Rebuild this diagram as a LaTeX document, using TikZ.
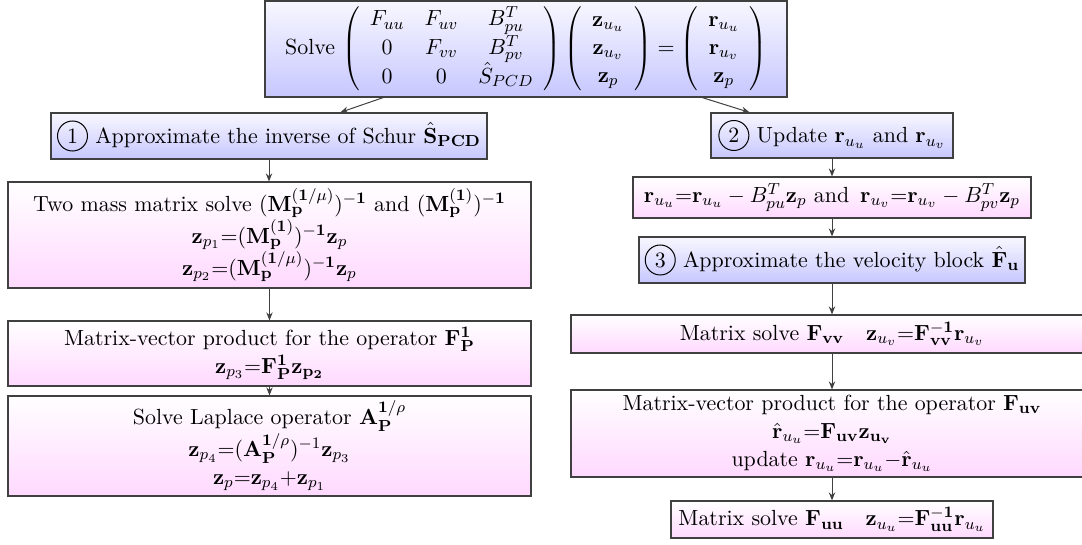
\documentclass[tikz,border=0pt]{standalone}
\usetikzlibrary{arrows.meta,shadows,calc}
\newcommand{\cnum}[2]{\tikz[baseline=(#1.base)]\node[draw,circle,inner sep=0pt,minimum size=15pt,line width=0.5pt](#1){#2};}
\tikzset{
 basebox/.style={draw=black!75, line width=0.6pt, rectangle, align=center, inner sep=2pt,
   font=\fontsize{10.95}{14}\selectfont,
   drop shadow={shadow xshift=0.7pt,shadow yshift=-0.7pt,opacity=0.45}},
 bluebox/.style={basebox, top color=blue!3, bottom color=blue!22},
 pinkbox/.style={basebox, top color=white, bottom color=magenta!15},
 conn/.style={draw=black!75, line width=0.5pt, -{Stealth[length=4pt,width=3.2pt]}},
}
\begin{document}
\begin{tikzpicture}[x=0.5pt,y=-0.5pt]
\useasboundingbox (0,0) rectangle (1082,545);
\clip (0,0) rectangle (1082,545);
\node[bluebox, minimum width=261pt, minimum height=48pt, inner ysep=0pt] (top) at (526,49)
 {Solve $\left(\begin{array}{ccc} F_{uu} & F_{uv} & B_{pu}^T\\ 0 & F_{vv} & B_{pv}^T \\ 0 & 0 & \hat{S}_{PCD}\end{array}\right)
 \left(\begin{array}{c}\mathbf{z}_{u_u}\\ \mathbf{z}_{u_v}\\ \mathbf{z}_p\end{array}\right) =
 \left(\begin{array}{c}\mathbf{r}_{u_u}\\ \mathbf{r}_{u_v}\\ \mathbf{z}_p\end{array}\right)$};
% left column
\node[bluebox, minimum width=218pt, minimum height=23pt, inner xsep=1pt] (b1) at (269,136)
 {\cnum{c1}{1} Approximate the inverse of Schur $\hat{\mathbf{S}}_{\mathbf{PCD}}$};
\node[pinkbox, minimum width=261.5pt, minimum height=53pt] (b1a) at (269.5,235)
 {Two mass matrix solve $\mathbf{(M_p^{(1/\mu)})^{-1}}$ and $\mathbf{(M_p^{(1)})^{-1}}$\\
  $\mathbf{z}_{p_1}{=}\mathbf{(M_p^{(1)})^{-1}}\mathbf{z}_p$\\
  $\mathbf{z}_{p_2}{=}\mathbf{(M_p^{(1/\mu)})^{-1}}\mathbf{z}_p$};
\node[pinkbox, minimum width=261.5pt, minimum height=32.5pt] (b1b) at (269.5,353.5)
 {Matrix-vector product for the operator $\mathbf{F_P^1}$\\
  $\mathbf{z}_{p_3}{=}\mathbf{F_P^1 z_{p_2}}$};
\node[pinkbox, minimum width=261.5pt, minimum height=50pt] (b1c) at (269.5,446)
 {Solve Laplace operator $\mathbf{A}_{\mathbf{P}}^{\mathbf{1}/\rho}$\\
  $\mathbf{z}_{p_4}{=}(\mathbf{A}_{\mathbf{P}}^{\mathbf{1}/\rho})^{-1}\mathbf{z}_{p_3}$\\
  $\mathbf{z}_p{=}\mathbf{z}_{p_4}{+}\mathbf{z}_{p_1}$};
% right column
\node[bluebox, minimum width=121pt, minimum height=22.5pt] (b2) at (832,135.5)
 {\cnum{c2}{2} Update $\mathbf{r}_{u_u}$ and $\mathbf{r}_{u_v}$};
\node[pinkbox, minimum width=199pt, minimum height=20.5pt, inner xsep=1pt] (b2a) at (832,197.5)
 {$\mathbf{r}_{u_u}{=}\mathbf{r}_{u_u} - B_{pu}^T\mathbf{z}_p$ and\, $\mathbf{r}_{u_v}{=}\mathbf{r}_{u_v} - B_{pv}^T\mathbf{z}_p$};
\node[bluebox, minimum width=193pt, minimum height=23pt, inner xsep=1pt] (b3) at (832,260)
 {\cnum{c3}{3} Approximate the velocity block $\hat{\mathbf{F}}_{\mathbf{u}}$};
\node[pinkbox, minimum width=261pt, minimum height=19pt] (b3a) at (832,334)
 {Matrix solve $\mathbf{F_{vv}}$\quad $\mathbf{z}_{u_v}{=}\mathbf{F_{vv}^{-1}}\mathbf{r}_{u_v}$};
\node[pinkbox, minimum width=261pt, minimum height=43.5pt] (b3b) at (832,433.5)
 {Matrix-vector product for the operator $\mathbf{F_{uv}}$\\
  $\hat{\mathbf{r}}_{u_u}{=}\mathbf{F_{uv}z_{u_v}}$\\
  update $\mathbf{r}_{u_u}{=}\mathbf{r}_{u_u}{-}\hat{\mathbf{r}}_{u_u}$};
\node[pinkbox, minimum width=161pt, minimum height=18.5pt] (b3c) at (832,519.5)
 {Matrix solve $\mathbf{F_{uu}}$\quad $\mathbf{z}_{u_u}{=}\mathbf{F_{uu}^{-1}}\mathbf{r}_{u_u}$};
% connectors
\draw[conn] ($(top.south west)!0.227!(top.south east)$) -- ($(b1.north west)!0.663!(b1.north east)$);
\draw[conn] ($(top.south west)!0.837!(top.south east)$) -- ($(b2.north west)!0.161!(b2.north east)$);
\draw[conn] (b1.south) -- (b1.south |- b1a.north);
\draw[conn] (b1a.south) -- (b1a.south |- b1b.north);
\draw[conn] (b1b.south) -- (b1b.south |- b1c.north);
\draw[conn] (b2.south) -- (b2.south |- b2a.north);
\draw[conn] (b2a.south) -- (b2a.south |- b3.north);
\draw[conn] (b3.south) -- (b3.south |- b3a.north);
\draw[conn] (b3a.south) -- (b3a.south |- b3b.north);
\draw[conn] (b3b.south) -- (b3b.south |- b3c.north);
\end{tikzpicture}
\end{document}
